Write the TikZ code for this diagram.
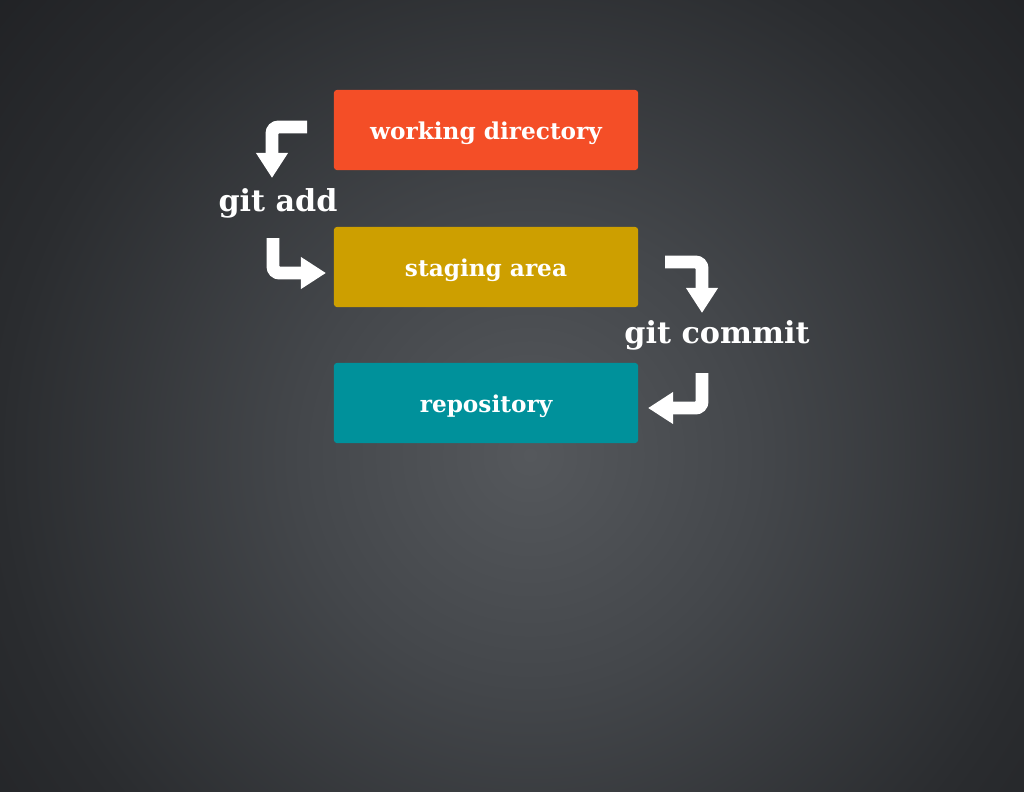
\documentclass[tikz,border=0pt]{standalone}
\usepackage{fontspec}
\setmainfont{DejaVu Serif}
\usepackage{tikz}
\usetikzlibrary{arrows.meta}

\definecolor{bgmid}{HTML}{55585C}
\definecolor{bginner}{HTML}{44474B}
\definecolor{bgring}{HTML}{2A2C2F}
\definecolor{bgedge}{HTML}{1E1F22}
\definecolor{wdorange}{HTML}{F44E27}
\definecolor{stagegold}{HTML}{CD9F00}
\definecolor{repoteal}{HTML}{00919B}

\pgfdeclareradialshading{bgglow}{\pgfpoint{0bp}{0bp}}{color(0bp)=(bgmid); color(7.5bp)=(bginner); color(17.5bp)=(bgring); color(25bp)=(bgedge); color(50bp)=(bgedge)}

\tikzset{
  area/.style={rectangle, rounded corners=2pt, minimum width=7.6cm, minimum height=2cm,
    text=white, text height=13.5pt, text depth=0pt,
    font=\fontsize{16.5}{18}\selectfont\bfseries},
  cmd/.style={text=white, font=\fontsize{21.5}{24}\selectfont\bfseries, inner sep=0pt},
  bentarrow/.style={draw=white, line width=9.2pt, rounded corners=4.6pt,
    -{Triangle[length=17.8pt,width=21.5pt]}}
}

\begin{document}
\begin{tikzpicture}[x=0.025cm,y=-0.025cm]

% background with soft glow
\useasboundingbox (0,0) rectangle (1024,791);
\fill[bgedge] (0,0) rectangle (1024,791);
\begin{scope}
  \clip (0,0) rectangle (1024,791);
  \shade[shading=bgglow] (530,455) circle (760);
\end{scope}

% the three areas
\node[area, fill=wdorange] (wd) at (486,130) {working directory};
\node[area, fill=stagegold] (stage) at (486,267) {staging area};
\node[area, fill=repoteal] (repo) at (486,403) {repository};

% commands
\node[cmd] (add) at (278,203) {git add};
\node[cmd] (commit) at (717,335) {git commit};

% arrow ends
\coordinate (addin) at (307,127);
\coordinate (addtop) at (272,178);
\coordinate (addbot) at (273,238);
\coordinate (addout) at (326,273);
\coordinate (comin) at (665,262);
\coordinate (comtop) at (702,313);
\coordinate (combot) at (702,373);
\coordinate (comout) at (648,408);

% bent arrows
\draw[bentarrow] (addin) -| (addtop);
\draw[bentarrow] (addbot) |- (addout);
\draw[bentarrow] (comin) -| (comtop);
\draw[bentarrow] (combot) |- (comout);

\end{tikzpicture}
\end{document}
